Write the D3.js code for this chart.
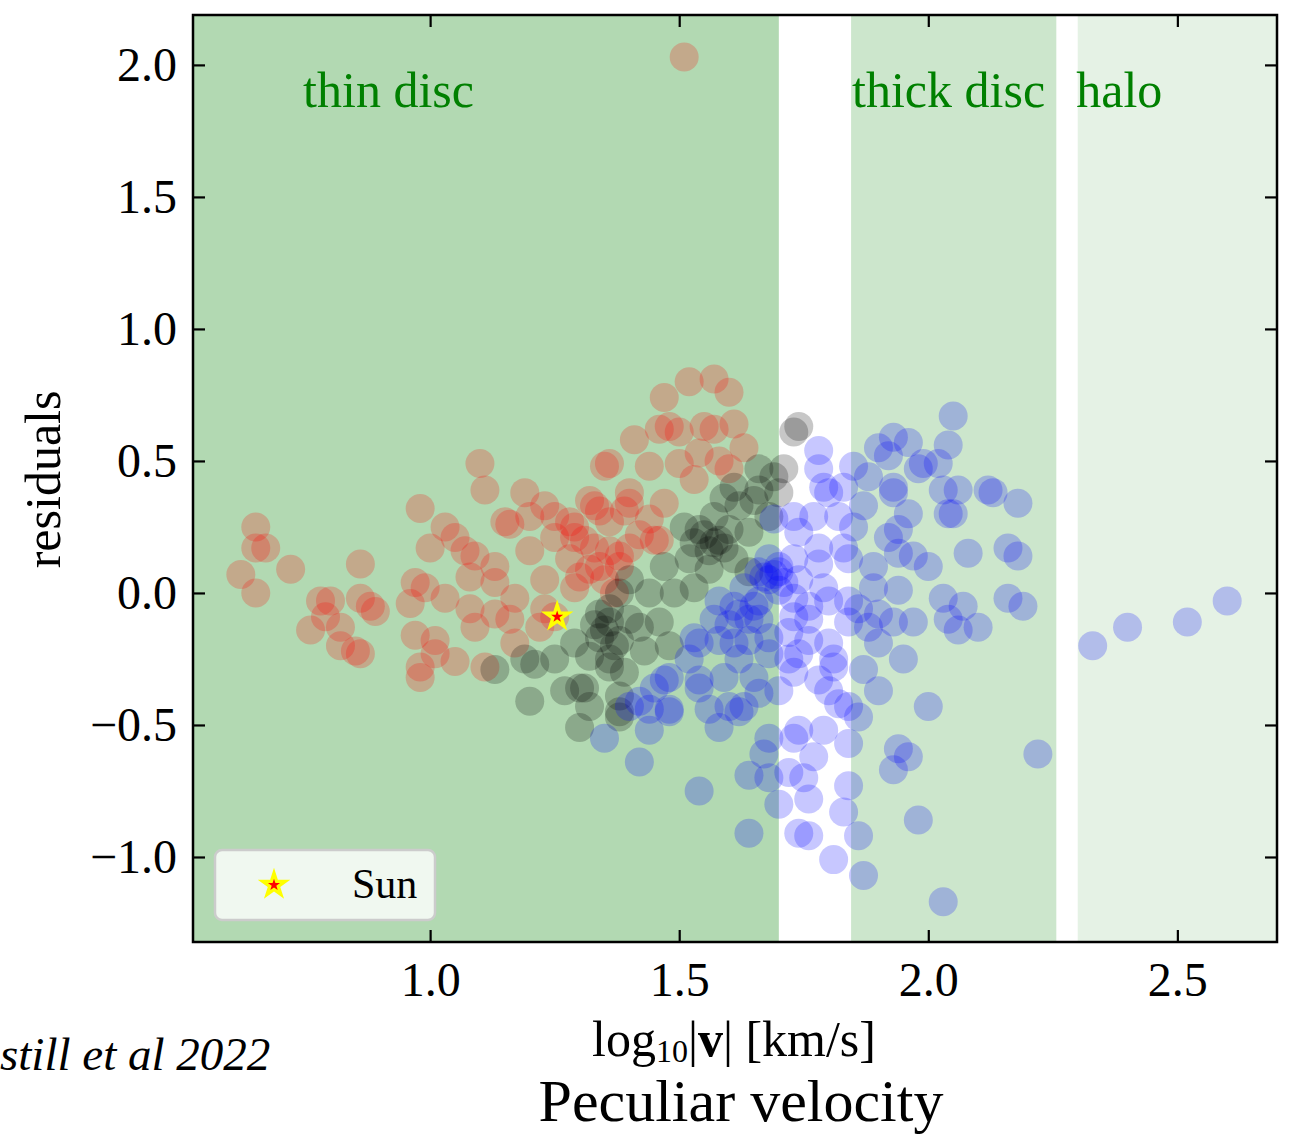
<!DOCTYPE html>
<html>
<head>
<meta charset="utf-8">
<script src="https://cdn.jsdelivr.net/npm/d3@7"></script>
<style>
  body { margin: 0; background: #fff; }
  svg text { font-family: "Liberation Serif", "DejaVu Serif", serif; }
</style>
</head>
<body>
<div id="chart"></div>
<script>
// residuals against log10 |v|, split by population

// thin disc (red)
const redPoints = [
    [0.65, 0.25], [0.65, 0.17], [0.67, 0.17], [0.62, 0.07], [0.65, 0.00], [0.72, 0.09],
    [0.78, -0.03], [0.80, -0.03], [0.79, -0.09], [0.76, -0.14], [0.82, -0.13], [0.82, -0.20],
    [0.85, -0.22], [0.86, -0.23], [0.86, 0.11], [0.86, -0.02], [0.88, -0.05], [0.89, -0.07],
    [0.98, 0.32], [1.10, 0.49], [1.11, 0.39], [1.00, 0.17], [1.03, 0.25], [1.05, 0.21],
    [0.97, 0.04], [0.99, 0.02], [0.96, -0.04], [0.97, -0.16], [1.01, -0.18], [1.01, -0.23],
    [0.98, -0.28], [0.98, -0.32], [1.03, -0.02], [1.05, -0.26], [1.07, 0.16], [1.09, 0.14],
    [1.08, 0.06], [1.08, -0.06], [1.09, -0.13], [1.11, -0.28], [1.13, 0.10], [1.13, 0.04],
    [1.13, -0.08], [1.15, 0.27], [1.16, 0.26], [1.19, 0.38], [1.20, 0.29], [1.20, 0.16],
    [1.17, -0.02], [1.16, -0.10], [1.17, -0.19], [1.23, 0.33], [1.23, 0.05], [1.25, 0.29],
    [1.25, 0.21], [1.28, 0.27], [1.29, 0.21], [1.28, 0.13], [1.30, 0.06], [1.32, 0.35],
    [1.34, 0.31], [1.35, 0.48], [1.36, 0.49], [1.34, 0.10], [1.36, 0.16], [1.38, 0.14],
    [1.41, 0.58], [1.40, 0.38], [1.39, 0.31], [1.22, -0.13], [1.25, -0.09], [1.23, -0.06],
    [1.52, 0.80], [1.57, 0.81], [1.60, 0.76], [1.47, 0.74], [1.46, 0.62], [1.48, 0.63],
    [1.50, 0.61], [1.55, 0.63], [1.57, 0.62], [1.61, 0.64], [1.63, 0.55], [1.44, 0.48],
    [1.50, 0.49], [1.54, 0.53], [1.58, 0.50], [1.60, 0.47], [1.53, 0.43], [1.47, 0.34],
    [1.40, 0.34], [1.33, 0.33], [1.29, 0.25], [1.36, 0.27], [1.44, 0.28], [1.45, 0.20],
    [1.46, 0.20], [1.40, 0.17], [1.33, 0.17], [1.38, 0.10], [1.32, 0.09], [1.35, 0.05],
    [1.29, 0.02], [1.37, 0.00], [1.51, 2.03], [1.31, 0.20], [1.42, 0.22]
];

// transition (black)
const blackPoints = [
    [1.20, -0.41], [1.19, -0.25], [1.21, -0.27], [1.25, -0.25], [1.27, -0.37], [1.32, -0.43],
    [1.31, -0.36], [1.36, -0.28], [1.38, -0.18], [1.36, -0.11], [1.34, -0.08], [1.38, 0.00],
    [1.40, 0.05], [1.29, -0.19], [1.34, -0.17], [1.13, -0.29], [1.74, 0.63], [1.73, 0.61],
    [1.71, 0.47], [1.66, 0.47], [1.69, 0.44], [1.66, 0.39], [1.70, 0.38], [1.61, 0.40],
    [1.59, 0.36], [1.62, 0.33], [1.57, 0.29], [1.54, 0.24], [1.57, 0.19], [1.59, 0.17],
    [1.53, 0.19], [1.51, 0.25], [1.47, 0.10], [1.56, 0.09], [1.61, 0.13], [1.64, 0.23],
    [1.68, 0.29], [1.49, 0.00], [1.44, 0.00], [1.36, -0.06], [1.42, -0.13], [1.46, -0.11],
    [1.48, -0.20], [1.43, -0.22], [1.39, -0.30], [1.32, -0.24], [1.30, -0.36], [1.38, -0.39],
    [1.38, -0.45], [1.53, 0.02], [1.64, 0.08], [1.30, -0.51], [1.38, -0.47], [1.36, -0.25],
    [1.55, 0.22], [1.58, 0.20], [1.52, 0.13], [1.35, -0.14], [1.37, -0.20], [1.33, -0.12],
    [1.40, -0.10], [1.65, 0.35], [1.56, 0.16], [1.60, 0.24]
];

// older populations (blue)
const bluePoints = [
    [2.05, 0.67], [1.93, 0.59], [1.90, 0.55], [1.96, 0.57], [1.92, 0.52], [2.04, 0.56],
    [2.02, 0.49], [1.99, 0.49], [1.78, 0.54], [1.85, 0.48], [1.78, 0.47], [1.80, 0.38],
    [1.79, 0.40], [1.83, 0.40], [1.87, 0.33], [1.88, 0.44], [1.93, 0.40], [1.96, 0.30],
    [1.93, 0.38], [1.98, 0.47], [2.03, 0.39], [2.06, 0.39], [2.04, 0.30], [2.05, 0.30],
    [2.12, 0.39], [2.13, 0.38], [2.18, 0.34], [1.94, 0.24], [1.92, 0.21], [1.82, 0.29],
    [1.85, 0.25], [1.77, 0.29], [1.73, 0.29], [1.69, 0.28], [1.74, 0.23], [1.78, 0.17],
    [1.83, 0.17], [1.84, 0.13], [1.78, 0.11], [1.73, 0.13], [1.70, 0.10], [1.67, 0.06],
    [1.70, 0.01], [1.74, 0.05], [1.89, 0.10], [1.97, 0.14], [2.00, 0.10], [1.94, 0.15],
    [2.08, 0.15], [2.16, 0.17], [2.18, 0.14], [1.94, 0.01], [1.89, 0.02], [1.79, 0.02],
    [1.80, -0.03], [1.84, -0.03], [1.86, -0.06], [1.90, -0.08], [1.93, -0.11], [1.97, -0.11],
    [1.88, -0.13], [1.84, -0.11], [2.03, -0.02], [2.07, -0.05], [2.16, -0.02], [2.19, -0.05],
    [2.04, -0.10], [2.06, -0.14], [2.10, -0.13], [1.95, -0.25], [1.90, -0.19], [1.87, -0.29],
    [1.90, -0.37], [2.00, -0.43], [1.76, -0.05], [1.73, -0.09], [1.76, -0.10], [1.72, -0.15],
    [1.76, -0.18], [1.80, -0.19], [1.81, -0.28], [1.78, -0.33], [1.74, -0.23], [1.72, -0.25],
    [1.68, -0.17], [1.66, -0.10], [1.64, -0.10], [1.61, -0.05], [1.58, -0.03], [1.57, -0.10],
    [1.64, -0.18], [1.68, -0.23], [1.61, -0.19], [1.58, -0.18], [1.54, -0.19], [1.53, -0.17],
    [1.62, -0.25], [1.59, -0.32], [1.54, -0.33], [1.52, -0.25], [1.48, -0.32], [1.45, -0.36],
    [1.48, -0.45], [1.44, -0.44], [1.42, -0.41], [1.56, -0.44], [1.58, -0.51], [1.62, -0.45],
    [1.66, -0.38], [1.70, -0.37], [1.74, -0.52], [1.79, -0.52], [1.84, -0.43], [1.86, -0.47],
    [1.68, 0.13], [1.66, 0.08], [1.70, 0.08], [1.63, 0.02], [1.66, -0.03], [1.73, -0.02],
    [1.35, -0.55], [1.42, -0.64], [1.54, -0.75], [1.64, -0.91], [1.64, -0.69], [1.68, -0.55],
    [1.67, -0.61], [1.68, -0.70], [1.70, -0.80], [1.72, -0.68], [1.73, -0.55], [1.75, -0.70],
    [1.76, -0.78], [1.74, -0.91], [1.76, -0.92], [1.77, -0.62], [1.84, -0.57], [1.84, -0.73],
    [1.83, -0.83], [1.86, -0.92], [1.81, -1.01], [1.87, -1.07], [1.94, -0.59], [1.96, -0.62],
    [1.93, -0.67], [1.98, -0.86], [2.03, -1.17], [2.22, -0.61], [1.82, -0.42], [1.80, -0.37],
    [1.81, -0.25], [1.73, -0.30], [1.65, -0.32], [1.63, -0.43], [1.60, -0.43], [1.54, -0.36],
    [1.48, -0.44], [1.44, -0.52], [1.40, -0.43], [1.47, -0.33],
    [1.68, 0.05], [1.69, 0.07], [1.62, -0.08], [1.60, -0.12], [1.65, -0.05], [1.71, 0.04],
    [2.33, -0.20], [2.40, -0.13], [2.52, -0.11], [2.60, -0.03]
];

const sunPoint = [1.255, -0.09];

// velocity bands: start, end, label, green alpha
const bandStarts = [0.524, 1.845, 2.30];
const bandEnds = [1.70, 2.257, 2.70];
const bandLabels = ["thin disc", "thick disc", "halo"];
const bandAlpha = [0.3, 0.2, 0.1];
const labelX = [0.745, 1.847, 2.297];

const xTicks = [1.0, 1.5, 2.0, 2.5];
const yTicks = [-1.0, -0.5, 0.0, 0.5, 1.0, 1.5, 2.0];

const width = 1296;
const height = 1138;
const margin = {top: 15, right: 19, bottom: 196, left: 193};
const innerW = width - margin.left - margin.right;
const innerH = height - margin.top - margin.bottom;

const x = d3.scaleLinear().domain([0.524, 2.70]).range([0, innerW]);
const y = d3.scaleLinear().domain([-1.322, 2.189]).range([innerH, 0]);

const svg = d3.select("#chart").append("svg")
    .attr("width", width)
    .attr("height", height);

const g = svg.append("g")
    .attr("transform", "translate(" + margin.left + "," + margin.top + ")");

// shaded population bands
bandStarts.forEach(function (s, i) {
    g.append("rect")
        .attr("x", x(s))
        .attr("y", 0)
        .attr("width", x(bandEnds[i]) - x(s))
        .attr("height", innerH)
        .attr("fill", "green")
        .attr("fill-opacity", bandAlpha[i]);
});

g.selectAll(".band-label")
    .data(bandLabels)
    .enter().append("text")
    .attr("class", "band-label")
    .attr("x", function (d, i) { return x(labelX[i]); })
    .attr("y", 92)
    .attr("fill", "green")
    .style("font-size", "50px")
    .text(function (d) { return d; });

// scatter, drawn in the same order as the original
const groups = [
    {pts: redPoints, color: "red"},
    {pts: blackPoints, color: "black"},
    {pts: bluePoints, color: "blue"}
];
groups.forEach(function (grp) {
    g.append("g").selectAll("circle")
        .data(grp.pts)
        .enter().append("circle")
        .attr("cx", function (d) { return x(d[0]); })
        .attr("cy", function (d) { return y(d[1]); })
        .attr("r", 14.5)
        .attr("fill", grp.color)
        .attr("fill-opacity", 0.22);
});

const bigStar = d3.symbol().type(d3.symbolStar).size(330);
const smallStar = d3.symbol().type(d3.symbolStar).size(45);

function drawSun(sel, cx, cy) {
    sel.append("path")
        .attr("d", bigStar())
        .attr("transform", "translate(" + cx + "," + cy + ")")
        .attr("fill", "yellow");
    sel.append("path")
        .attr("d", smallStar())
        .attr("transform", "translate(" + cx + "," + cy + ")")
        .attr("fill", "red");
}
drawSun(g, x(sunPoint[0]), y(sunPoint[1]));

// axes, ticks pointing inward on all four sides
const fmt = d3.format(".1f");
const xAxis = g.append("g")
    .attr("transform", "translate(0," + innerH + ")")
    .call(d3.axisBottom(x).tickValues(xTicks).tickFormat(fmt).tickSize(-12).tickSizeOuter(0).tickPadding(20));
const yAxis = g.append("g")
    .call(d3.axisLeft(y).tickValues(yTicks).tickFormat(fmt).tickSize(-12).tickSizeOuter(0).tickPadding(16));
g.append("g")
    .call(d3.axisTop(x).tickValues(xTicks).tickFormat("").tickSize(-12).tickSizeOuter(0));
g.append("g")
    .attr("transform", "translate(" + innerW + ",0)")
    .call(d3.axisRight(y).tickValues(yTicks).tickFormat("").tickSize(-12).tickSizeOuter(0));

g.selectAll(".domain").remove();
g.selectAll(".tick line").attr("stroke", "black").attr("stroke-width", 2.2);
[xAxis, yAxis].forEach(function (a) {
    a.selectAll("text")
        .attr("fill", "black")
        .style("font-family", "'Liberation Serif', serif")
        .style("font-size", "48px");
});

g.append("rect")
    .attr("width", innerW)
    .attr("height", innerH)
    .attr("fill", "none")
    .attr("stroke", "black")
    .attr("stroke-width", 2.5);

// legend
const legend = g.append("g").attr("transform", "translate(22,835)");
legend.append("rect")
    .attr("width", 220)
    .attr("height", 70)
    .attr("rx", 7)
    .attr("fill", "white")
    .attr("fill-opacity", 0.8)
    .attr("stroke", "#cccccc")
    .attr("stroke-width", 2.5);
drawSun(legend, 59, 35);
legend.append("text")
    .attr("x", 137)
    .attr("y", 48)
    .style("font-size", "42px")
    .text("Sun");

// axis titles
svg.append("text")
    .attr("transform", "translate(60," + (margin.top + y(0.43)) + ") rotate(-90)")
    .attr("text-anchor", "middle")
    .style("font-size", "50px")
    .text("residuals");

const xl = svg.append("text")
    .attr("x", 734)
    .attr("y", 1056)
    .attr("text-anchor", "middle")
    .style("font-size", "50px");
xl.append("tspan").text("log");
xl.append("tspan").attr("dy", 6).style("font-size", "32px").text("10");
xl.append("tspan").attr("dy", -6).text("|");
xl.append("tspan").style("font-weight", "bold").text("v");
xl.append("tspan").text("| [km/s]");

svg.append("text")
    .attr("x", 741)
    .attr("y", 1121)
    .attr("text-anchor", "middle")
    .style("font-size", "60px")
    .text("Peculiar velocity");

svg.append("text")
    .attr("x", 0)
    .attr("y", 1070)
    .style("font-size", "47px")
    .style("font-style", "italic")
    .text("still et al 2022");
</script>
</body>
</html>
